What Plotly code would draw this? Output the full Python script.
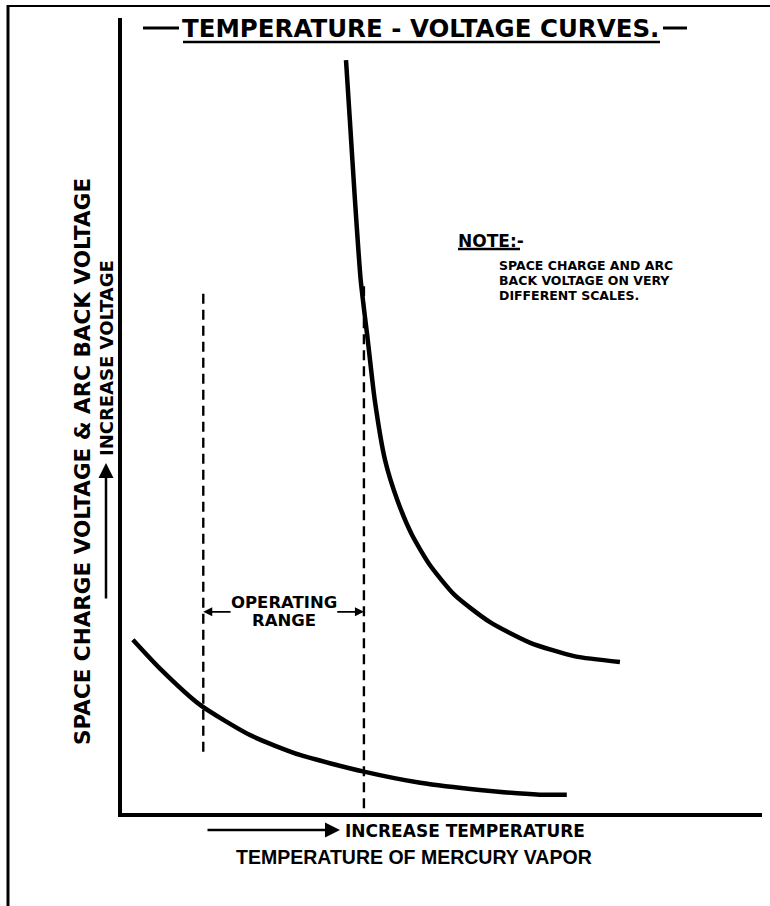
import plotly.graph_objects as go

# ---- data (arbitrary units: temperature 0-100, voltage 0-100)
arc_temp = [35.0, 35.6, 36.4, 37.3, 38.4, 39.5, 41.1, 43.0, 45.3, 48.1, 52.0, 57.5, 63.8, 70.8, 77.8]
arc_volt = [94.7, 87.2, 77.1, 67.0, 59.5, 51.9, 44.4, 39.4, 35.0, 31.2, 27.4, 24.0, 21.4, 19.7, 19.0]

sc_temp = [1.7, 5.9, 12.2, 20.0, 27.8, 37.8, 46.6, 55.9, 65.3, 69.5]
sc_volt = [21.8, 18.2, 13.6, 9.8, 7.3, 5.2, 3.8, 2.9, 2.3, 2.3]

range_low_temp = 12.7
range_high_temp = 37.8
range_low_span = [7.7, 66.0]
range_high_span = [0.6, 66.8]

title_text = "TEMPERATURE - VOLTAGE CURVES."
ylabel_text = "SPACE CHARGE VOLTAGE &amp; ARC BACK VOLTAGE"
ylabel_arrow_text = "INCREASE VOLTAGE"
xlabel_arrow_text = "INCREASE TEMPERATURE"
xlabel_text = "TEMPERATURE OF MERCURY VAPOR"
note_title = "NOTE:-"
note_lines = ["SPACE CHARGE AND ARC", "BACK VOLTAGE ON VERY", "DIFFERENT SCALES."]
range_lines = ["OPERATING", "RANGE"]

FONT = "DejaVu Sans"
FONT_NARROW = "Liberation Sans"
W, H = 770, 906
ML, MR, MT, MB = 122, 8, 18, 93
PW, PH = W - ML - MR, H - MT - MB


def px(xp):
    return (xp - ML) / PW


def py(yp):
    return (H - MB - yp) / PH


fig = go.Figure()

fig.add_trace(go.Scatter(x=arc_temp, y=arc_volt, mode="lines",
                         line=dict(color="black", width=4.5, shape="spline", smoothing=0.6),
                         hoverinfo="skip", showlegend=False))
fig.add_trace(go.Scatter(x=sc_temp, y=sc_volt, mode="lines",
                         line=dict(color="black", width=4.5, shape="spline", smoothing=0.6),
                         hoverinfo="skip", showlegend=False))
fig.add_trace(go.Scatter(x=[range_low_temp, range_low_temp], y=range_low_span, mode="lines",
                         line=dict(color="black", width=2.4, dash="10px,6px"),
                         hoverinfo="skip", showlegend=False))
fig.add_trace(go.Scatter(x=[range_high_temp, range_high_temp], y=range_high_span, mode="lines",
                         line=dict(color="black", width=2.4, dash="10px,6px"),
                         hoverinfo="skip", showlegend=False))

annotations = []


def txt(text, x, y, size, xref="paper", yref="paper", xanchor="center", yanchor="middle",
        angle=0, family=FONT):
    annotations.append(dict(text="<b>%s</b>" % text, x=x, y=y, xref=xref, yref=yref,
                            xanchor=xanchor, yanchor=yanchor, showarrow=False, textangle=angle,
                            font=dict(family=family, size=size, color="black")))


# title
txt(title_text, px(420.5), py(28), 24.5)
# y labels
txt(ylabel_text, px(82), py(462), 21.5, angle=-90)
txt(ylabel_arrow_text, px(106), py(458), 18, yanchor="bottom", angle=-90)
# x labels
txt(xlabel_arrow_text, px(343), py(831), 17, xanchor="left")
txt(xlabel_text, px(414), py(857), 19.5, family=FONT_NARROW)
# note
txt(note_title, px(456), py(241), 17, xanchor="left")
for i, line in enumerate(note_lines):
    txt(line, px(497), py(265 + 15 * i), 12.5, xanchor="left")
# operating range
mid = (range_low_temp + range_high_temp) / 2 + 0.1
txt(range_lines[0], mid, 26.5, 16.5, xref="x", yref="y")
txt(range_lines[1], mid, 24.2, 16.5, xref="x", yref="y")

# arrows
arrow_y = 25.3
annotations.append(dict(x=range_low_temp, y=arrow_y, ax=range_low_temp + 4.5, ay=arrow_y,
                        xref="x", yref="y", axref="x", ayref="y", text="", showarrow=True,
                        arrowhead=2, arrowsize=1, arrowwidth=1.8, arrowcolor="black"))
annotations.append(dict(x=range_high_temp, y=arrow_y, ax=range_high_temp - 4.4, ay=arrow_y,
                        xref="x", yref="y", axref="x", ayref="y", text="", showarrow=True,
                        arrowhead=2, arrowsize=1, arrowwidth=1.8, arrowcolor="black"))
annotations.append(dict(x=px(340), y=py(830), ax=-134, ay=0, xref="paper", yref="paper",
                        text="", showarrow=True, arrowhead=2, arrowsize=1.2, arrowwidth=2.5,
                        arrowcolor="black"))
annotations.append(dict(x=px(106), y=py(463), ax=0, ay=137, xref="paper", yref="paper",
                        text="", showarrow=True, arrowhead=2, arrowsize=1.2, arrowwidth=2.5,
                        arrowcolor="black"))

shapes = [
    # title dashes and underline
    dict(type="line", xref="paper", yref="paper", x0=px(143), x1=px(179), y0=py(28), y1=py(28),
         line=dict(color="black", width=3)),
    dict(type="line", xref="paper", yref="paper", x0=px(663), x1=px(687), y0=py(28), y1=py(28),
         line=dict(color="black", width=3)),
    dict(type="line", xref="paper", yref="paper", x0=px(183), x1=px(660), y0=py(42), y1=py(42),
         line=dict(color="black", width=2.5)),
    # note underline
    dict(type="line", xref="paper", yref="paper", x0=px(458), x1=px(520), y0=py(249), y1=py(249),
         line=dict(color="black", width=2.5)),
    # page frame
    dict(type="line", xref="paper", yref="paper", x0=px(8), x1=px(8), y0=py(5), y1=py(906),
         line=dict(color="black", width=3)),
    dict(type="line", xref="paper", yref="paper", x0=px(8), x1=px(770), y0=py(6), y1=py(6),
         line=dict(color="black", width=2)),
]

fig.update_layout(
    width=W, height=H,
    margin=dict(l=ML, r=MR, t=MT, b=MB),
    paper_bgcolor="white", plot_bgcolor="white",
    showlegend=False,
    annotations=annotations,
    shapes=shapes,
    xaxis=dict(range=[0, 100], showgrid=False, zeroline=False, showticklabels=False, ticks="",
               showline=True, linecolor="black", linewidth=4, fixedrange=True),
    yaxis=dict(range=[0, 100], showgrid=False, zeroline=False, showticklabels=False, ticks="",
               showline=True, linecolor="black", linewidth=4, fixedrange=True),
)

fig.write_html("out.html", config={"displayModeBar": False},
               post_script="document.body.style.margin='0';")
